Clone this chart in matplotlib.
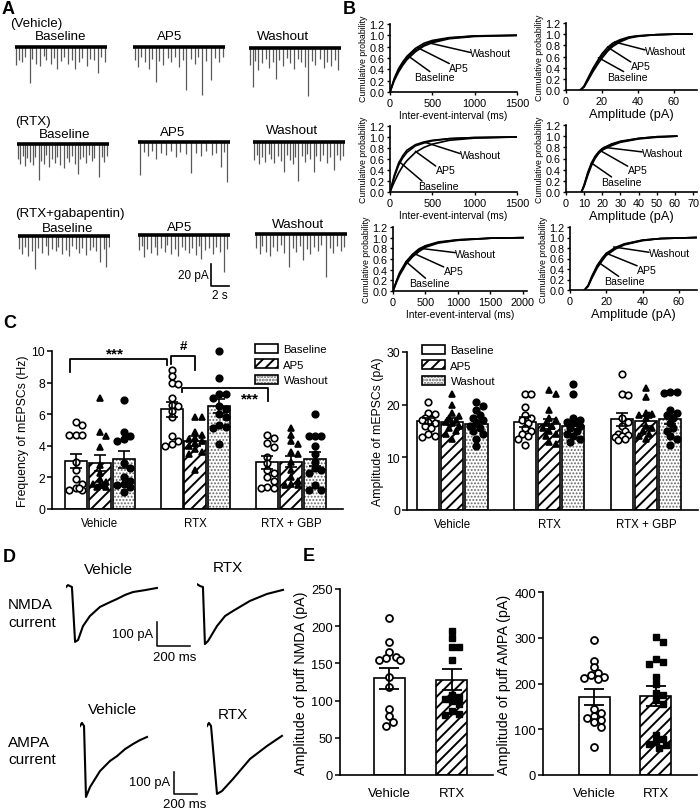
import numpy as np
import matplotlib
matplotlib.use("Agg")
import matplotlib.pyplot as plt
from matplotlib.patches import Patch

plt.rcParams['font.family'] = ['Liberation Sans', 'DejaVu Sans']
plt.rcParams['axes.linewidth'] = 1.2
plt.rcParams['hatch.linewidth'] = 1.4

# ---------------- A: mEPSC events, time (s) and amplitude (pA) ----------------
veh_base_t = [0.15, 0.45, 0.8, 1.1, 1.6, 1.9, 2.3, 2.7, 3.1, 3.4, 3.9, 4.2, 4.6, 5.0, 5.3, 5.8, 6.2, 6.5, 7.0, 7.3, 7.8, 8.2, 8.6, 9.0, 9.4, 9.8]
veh_base_a = [16, 12, 14, 9, 33, 11, 15, 17, 8, 12, 15, 10, 20, 13, 9, 15, 12, 20, 14, 10, 17, 11, 12, 24, 9, 14]
veh_ap5_t = [0.2, 0.5, 0.9, 1.3, 1.7, 2.1, 2.5, 2.8, 3.3, 3.8, 4.1, 4.6, 5.0, 5.4, 5.8, 6.3, 6.7, 7.1, 7.5, 7.9, 8.5, 8.9, 9.4, 9.8]
veh_ap5_a = [12, 18, 9, 14, 20, 11, 32, 13, 16, 10, 14, 9, 18, 12, 39, 11, 15, 9, 44, 13, 30, 10, 14, 9]
veh_wash_t = [0.1, 0.4, 0.7, 1.0, 1.4, 1.8, 2.2, 2.6, 2.9, 3.3, 3.7, 4.1, 4.5, 4.9, 5.3, 5.7, 6.1, 6.4, 6.8, 7.2, 7.7, 8.1, 8.5, 8.9, 9.3, 9.7]
veh_wash_a = [15, 35, 12, 20, 14, 10, 18, 13, 28, 11, 16, 9, 14, 19, 10, 13, 17, 44, 12, 15, 10, 18, 13, 16, 11, 20]
rtx_base_t = [0.1, 0.35, 0.6, 0.9, 1.1, 1.4, 1.7, 2.0, 2.4, 2.6, 2.9, 3.2, 3.5, 3.8, 4.1, 4.4, 4.7, 5.1, 5.4, 5.7, 6.0, 6.3, 6.6, 6.9, 7.2, 7.5, 7.8, 8.1, 8.4, 8.9, 9.2, 9.5, 9.8]
rtx_base_a = [14, 18, 11, 20, 13, 16, 19, 12, 33, 15, 18, 10, 21, 14, 17, 12, 19, 22, 13, 16, 11, 18, 27, 14, 12, 17, 10, 15, 13, 30, 12, 16, 11]
rtx_ap5_t = [0.2, 0.6, 1.1, 1.5, 2.0, 2.5, 3.0, 3.6, 4.1, 4.6, 5.2, 5.8, 6.3, 6.9, 7.4, 8.0, 8.5, 9.0, 9.4, 9.7]
rtx_ap5_a = [30, 9, 13, 8, 15, 10, 12, 8, 14, 9, 11, 28, 10, 13, 8, 12, 10, 23, 9, 36]
rtx_wash_t = [0.1, 0.4, 0.7, 1.0, 1.3, 1.7, 2.0, 2.3, 2.7, 3.0, 3.4, 3.7, 4.0, 4.3, 4.6, 4.9, 5.3, 5.6, 5.9, 6.2, 6.6, 6.9, 7.3, 7.6, 8.0, 8.4, 8.8, 9.1, 9.5, 9.8]
rtx_wash_a = [16, 12, 20, 14, 18, 11, 15, 19, 13, 17, 27, 12, 16, 20, 14, 35, 13, 18, 11, 15, 27, 13, 17, 12, 19, 14, 25, 12, 16, 13]
gbp_base_t = [0.1, 0.4, 0.8, 1.1, 1.5, 1.9, 2.2, 2.6, 3.0, 3.3, 3.7, 4.1, 4.4, 4.8, 5.2, 5.5, 5.9, 6.3, 6.6, 7.0, 7.4, 7.8, 8.2, 8.5, 8.9, 9.3, 9.6, 9.9]
gbp_base_a = [12, 16, 10, 18, 14, 30, 11, 15, 9, 17, 12, 14, 10, 16, 13, 18, 9, 12, 15, 11, 17, 13, 10, 14, 24, 12, 28, 10]
gbp_ap5_t = [0.1, 0.4, 0.7, 1.0, 1.4, 1.8, 2.1, 2.5, 2.9, 3.2, 3.6, 4.0, 4.4, 4.8, 5.1, 5.5, 5.9, 6.3, 6.6, 6.9, 7.3, 7.7, 8.1, 8.5, 8.9, 9.4, 9.7]
gbp_ap5_a = [14, 10, 20, 13, 16, 11, 18, 12, 15, 9, 17, 13, 19, 11, 14, 16, 12, 18, 10, 22, 14, 12, 17, 11, 15, 34, 13]
gbp_wash_t = [0.1, 0.5, 0.8, 1.2, 1.6, 2.0, 2.4, 2.8, 3.2, 3.7, 4.1, 4.5, 4.9, 5.2, 5.6, 6.0, 6.4, 6.8, 7.2, 7.7, 8.1, 8.5, 8.9, 9.3, 9.7]
gbp_wash_a = [13, 18, 11, 16, 20, 12, 15, 10, 17, 30, 13, 16, 11, 24, 14, 18, 12, 15, 10, 39, 13, 17, 11, 15, 12]

# ---------------- B: cumulative probability curves ----------------
b1_x = [0, 50, 100, 150, 200, 300, 400, 500, 700, 1000, 1500]
b1_base = [0, 0.22, 0.38, 0.50, 0.60, 0.74, 0.83, 0.89, 0.95, 0.99, 1.0]
b1_ap5 = [0, 0.20, 0.35, 0.47, 0.57, 0.71, 0.81, 0.87, 0.94, 0.98, 1.0]
b1_wash = [0, 0.24, 0.41, 0.53, 0.63, 0.77, 0.86, 0.91, 0.96, 0.99, 1.0]
b2_x = [8, 10, 12, 15, 18, 20, 23, 26, 30, 35, 40, 50, 60, 70]
b2_base = [0, 0.06, 0.18, 0.36, 0.52, 0.61, 0.72, 0.81, 0.88, 0.94, 0.97, 0.99, 1.0, 1.0]
b2_ap5 = [0, 0.05, 0.16, 0.33, 0.48, 0.57, 0.69, 0.78, 0.86, 0.93, 0.96, 0.99, 1.0, 1.0]
b2_wash = [0, 0.07, 0.20, 0.39, 0.55, 0.65, 0.76, 0.84, 0.90, 0.95, 0.97, 0.99, 1.0, 1.0]
b3_x = [0, 50, 100, 150, 200, 300, 400, 500, 700, 1000, 1500]
b3_base = [0, 0.30, 0.52, 0.66, 0.76, 0.86, 0.91, 0.94, 0.97, 0.99, 1.0]
b3_ap5 = [0, 0.18, 0.34, 0.47, 0.57, 0.72, 0.81, 0.87, 0.94, 0.98, 1.0]
b3_wash = [0, 0.27, 0.48, 0.62, 0.72, 0.84, 0.89, 0.93, 0.97, 0.99, 1.0]
b4_x = [8.5, 10, 12, 14, 16, 18, 20, 25, 30, 40, 50, 61]
b4_base = [0, 0.12, 0.33, 0.50, 0.62, 0.71, 0.77, 0.85, 0.90, 0.96, 0.99, 1.0]
b4_ap5 = [0, 0.10, 0.30, 0.47, 0.60, 0.69, 0.75, 0.83, 0.89, 0.95, 0.98, 1.0]
b4_wash = [0, 0.13, 0.35, 0.52, 0.64, 0.72, 0.78, 0.86, 0.91, 0.96, 0.99, 1.0]
b5_x = [0, 50, 100, 200, 300, 400, 500, 700, 1000, 1500, 2000]
b5_base = [0, 0.17, 0.32, 0.53, 0.67, 0.77, 0.84, 0.91, 0.96, 0.99, 1.0]
b5_ap5 = [0, 0.15, 0.29, 0.50, 0.64, 0.74, 0.82, 0.90, 0.95, 0.99, 1.0]
b5_wash = [0, 0.18, 0.34, 0.55, 0.69, 0.79, 0.85, 0.92, 0.96, 0.99, 1.0]
b6_x = [8, 10, 12, 15, 18, 20, 25, 30, 40, 50, 60, 70]
b6_base = [0, 0.08, 0.24, 0.45, 0.60, 0.68, 0.80, 0.87, 0.95, 0.98, 0.99, 1.0]
b6_ap5 = [0, 0.07, 0.22, 0.42, 0.57, 0.66, 0.78, 0.86, 0.94, 0.98, 0.99, 1.0]
b6_wash = [0, 0.09, 0.26, 0.47, 0.62, 0.70, 0.81, 0.88, 0.95, 0.98, 0.99, 1.0]

# ---------------- C: mEPSC frequency / amplitude ----------------
groups = ['Vehicle', 'RTX', 'RTX + GBP']
conds = ['Baseline', 'AP5', 'Washout']
freq_veh = [[5.5, 5.3, 4.7, 4.7, 4.7, 3.0, 2.5, 1.9, 1.6, 1.3, 1.2, 1.2, 1.3],
            [7.0, 4.9, 4.6, 3.9, 2.8, 2.3, 1.9, 1.7, 1.6, 1.5, 1.5, 1.4, 1.4],
            [6.9, 4.9, 4.6, 4.4, 4.3, 2.9, 2.6, 2.0, 1.8, 1.6, 1.5, 1.4, 1.1]]
freq_rtx = [[8.8, 8.4, 8.0, 7.9, 7.0, 6.6, 6.5, 6.2, 5.8, 4.6, 4.3, 4.1, 4.0],
            [5.8, 5.8, 4.9, 4.7, 4.5, 4.4, 4.3, 4.2, 4.0, 3.8, 3.6, 3.5, 2.5],
            [10.0, 8.3, 7.3, 7.3, 7.0, 6.5, 6.3, 6.0, 5.8, 5.3, 5.2, 5.1, 4.1]]
freq_gbp = [[4.7, 4.5, 4.2, 3.9, 3.3, 2.9, 2.5, 2.3, 2.0, 1.8, 1.4, 1.3, 1.3],
            [5.1, 4.7, 4.3, 4.1, 3.6, 3.5, 3.0, 2.5, 2.0, 1.8, 1.6, 1.5, 1.5],
            [6.0, 4.6, 4.6, 4.6, 4.0, 3.5, 3.0, 2.6, 2.5, 2.3, 1.5, 1.2, 1.2]]
freq_mean = [[3.05, 2.9, 3.15], [6.3, 4.3, 6.5], [2.95, 3.0, 3.15]]
freq_sem = [[0.45, 0.5, 0.55], [0.45, 0.3, 0.45], [0.4, 0.37, 0.45]]

amp_veh = [[20.6, 18.5, 18.3, 17.5, 17.2, 17.0, 16.8, 16.5, 16.0, 15.5, 14.5, 14.0, 13.8],
           [22.0, 20.0, 18.5, 17.8, 17.5, 17.0, 16.8, 16.5, 16.0, 15.5, 15.0, 14.5, 13.5],
           [20.5, 19.7, 19.0, 18.0, 17.5, 17.0, 16.5, 16.0, 15.5, 15.0, 14.5, 13.5, 12.2]]
amp_rtx = [[22.0, 22.0, 19.5, 18.0, 17.5, 17.0, 16.5, 15.5, 15.0, 14.5, 14.0, 13.5, 12.3],
           [22.8, 22.0, 19.0, 17.5, 17.0, 16.5, 16.0, 15.5, 15.0, 14.5, 14.0, 13.0, 12.5],
           [24.0, 22.0, 17.5, 17.0, 16.8, 16.5, 16.0, 15.5, 15.0, 14.5, 14.0, 13.5, 13.0]]
amp_gbp = [[25.8, 22.0, 21.8, 17.5, 16.8, 16.0, 15.0, 14.5, 14.2, 14.0, 13.8, 13.5, 13.3],
           [23.2, 21.5, 18.5, 18.3, 18.0, 18.0, 17.5, 16.0, 15.5, 15.0, 14.5, 14.0, 13.5],
           [22.5, 22.5, 22.2, 19.0, 18.5, 18.0, 17.5, 16.5, 15.5, 15.0, 14.0, 13.5, 12.3]]
amp_mean = [[16.9, 16.8, 16.4], [16.7, 16.3, 16.0], [17.2, 16.9, 17.2]]
amp_sem = [[0.6, 0.7, 0.7], [1.0, 1.0, 0.6], [1.3, 0.9, 0.9]]

# ---------------- D: puff-evoked currents, time (ms) and current (pA) ----------------
nmda_veh_t = [0, 12, 36, 55, 73, 103, 145, 206, 267, 309, 358, 406, 479, 551]
nmda_veh_i = [0, 8, 0, -229, -221, -163, -121, -83, -63, -50, -33, -21, -13, -4]
nmda_rtx_t = [0, 18, 36, 48, 67, 121, 170, 218, 321, 424, 521]
nmda_rtx_i = [12, 4, 0, -238, -225, -163, -121, -100, -58, -29, -12]
ampa_veh_t = [0, 17, 35, 52, 87, 131, 174, 261, 322, 392, 461, 522, 583]
ampa_veh_i = [0, 14, 0, -323, -278, -241, -205, -159, -137, -105, -82, -64, -50]
ampa_rtx_t = [0, 17, 35, 87, 130, 226, 374, 522, 652]
ampa_rtx_i = [0, 14, 0, -309, -296, -241, -150, -91, -45]

# ---------------- E: puff current amplitudes ----------------
e_groups = ['Vehicle', 'RTX']
nmda_veh = [211, 179, 165, 158, 157, 155, 154, 132, 118, 89, 79, 71, 66]
nmda_rtx = [194, 184, 172, 172, 154, 108, 105, 102, 100, 95, 86, 82, 80]
nmda_mean = [130, 128]
nmda_sem = [14, 14]
ampa_veh = [295, 250, 235, 222, 218, 215, 212, 210, 145, 136, 130, 125, 120, 115, 105, 62]
ampa_rtx = [302, 290, 254, 247, 243, 215, 200, 180, 175, 165, 155, 88, 78, 72, 68, 65, 58]
ampa_mean = [170, 172]
ampa_sem = [18, 22]

W, H = 700, 812
fig = plt.figure(figsize=(W / 100, H / 100), dpi=100)


def px_axes(l, t, r, b):
    return fig.add_axes([l / W, 1 - b / H, (r - l) / W, (b - t) / H])


def ftext(x, y, s, **kw):
    kw.setdefault('va', 'center')
    fig.text(x / W, 1 - y / H, s, **kw)


def swarm(values, dx, dy, maxw):
    steps = [0.0]
    k = 1
    while k * dx * 0.5 <= maxw + 1e-9:
        steps += [k * dx * 0.5, -k * dx * 0.5]
        k += 1
    placed, out = [], []
    for v in values:
        pick = None
        for s in steps:
            if all(((s - px) / dx) ** 2 + ((v - py) / dy) ** 2 >= 0.9 for px, py in placed):
                pick = s
                break
        if pick is None:
            pick = max(steps, key=lambda s: min(((s - px) / dx) ** 2 + ((v - py) / dy) ** 2
                                                for px, py in placed))
        placed.append((pick, v))
        out.append(pick)
    return np.array(out)


def hatch_bar(ax, x, h, w, cond, lw=1.2):
    if cond == 2:
        with plt.rc_context({'hatch.linewidth': 0.9}):
            bars = ax.bar(x, h, w, color='white', edgecolor='0.4', hatch='.....', lw=0, zorder=1)
        for b in bars:
            if hasattr(b, 'set_hatch_linewidth'):
                b.set_hatch_linewidth(0.9)
        ax.bar(x, h, w, fill=False, edgecolor='black', lw=lw, zorder=2)
    elif cond == 1:
        ax.bar(x, h, w, color='white', edgecolor='black', hatch='///', lw=lw, zorder=1)
    else:
        ax.bar(x, h, w, color='white', edgecolor='black', lw=lw, zorder=1)


def clean(ax):
    ax.spines['top'].set_visible(False)
    ax.spines['right'].set_visible(False)


# ================= Panel A =================
ftext(2, 9, 'A', fontsize=13, fontweight='bold')
PX_PER_S, PX_PER_PA = 9.2, 1.1
traces = [(15, 48, veh_base_t, veh_base_a), (133, 48, veh_ap5_t, veh_ap5_a), (249, 49, veh_wash_t, veh_wash_a),
          (17, 145, rtx_base_t, rtx_base_a), (138, 143, rtx_ap5_t, rtx_ap5_a), (253, 143, rtx_wash_t, rtx_wash_a),
          (18, 237, gbp_base_t, gbp_base_a), (138, 236, gbp_ap5_t, gbp_ap5_a), (255, 235, gbp_wash_t, gbp_wash_a)]
trace_axes = []
for left, base, t, a in traces:
    ax = px_axes(left, base - 6, left + 92, base + 56)
    ax.set_xlim(0, 92 / PX_PER_S)
    ax.set_ylim(-56 / PX_PER_PA, 6 / PX_PER_PA)
    ax.axis('off')
    ax.vlines(t, 0, -np.asarray(a, dtype=float), color='0.35', lw=0.9)
    ax.plot([0, 92 / PX_PER_S], [0, 0], color='black', lw=2.6, solid_capstyle='butt')
    trace_axes.append(ax)

# scale bar 20 pA / 2 s
sb = trace_axes[7]
sb.plot([7.9, 7.9, 9.9], [-26.4, -46.4, -46.4], color='black', lw=1.2, clip_on=False)
sb.text(7.7, -36, '20 pA', ha='right', va='center', fontsize=8.5)
sb.text(8.9, -49, '2 s', ha='center', va='top', fontsize=8.5, clip_on=False)

a_size = 9.6
ftext(10, 24, '(Vehicle)', fontsize=a_size)
ftext(61, 37, 'Baseline', fontsize=a_size, ha='center')
ftext(170, 37, 'AP5', fontsize=a_size, ha='center')
ftext(283, 37, 'Washout', fontsize=a_size, ha='center')
ftext(15, 122, '(RTX)', fontsize=a_size)
ftext(65, 135, 'Baseline', fontsize=a_size, ha='center')
ftext(173, 133, 'AP5', fontsize=a_size, ha='center')
ftext(292, 131, 'Washout', fontsize=a_size, ha='center')
ftext(15, 214, '(RTX+gabapentin)', fontsize=a_size)
ftext(68, 229, 'Baseline', fontsize=a_size, ha='center')
ftext(180, 228, 'AP5', fontsize=a_size, ha='center')
ftext(298, 225, 'Washout', fontsize=a_size, ha='center')

# ================= Panel B =================
ftext(343, 9, 'B', fontsize=13, fontweight='bold')


def cum_panel(box, xmax, xticks, xlabel, xl_size, x, curves, leaders):
    ax = px_axes(*box)
    for y in curves:
        ax.plot(x, y, color='black', lw=1.2)
    ax.set_xlim(0, xmax)
    ax.set_ylim(0, 1.2)
    yt = np.arange(0, 1.21, 0.2)
    ax.set_yticks(yt)
    ax.set_yticklabels(['%.1f' % v for v in yt])
    ax.set_xticks(xticks)
    clean(ax)
    ax.tick_params(length=2.5, width=1, labelsize=7.8, pad=1.5)
    ax.set_ylabel('Cumulative probability', fontsize=6.3, labelpad=1)
    ax.set_xlabel(xlabel, fontsize=xl_size, labelpad=1.5)
    for name, xy, xyt, va, rel in leaders:
        ax.annotate(name, xy=xy, xytext=xyt, ha='left', va=va, fontsize=7.6,
                    arrowprops=dict(arrowstyle='-', lw=1.1, color='black', relpos=rel,
                                    patchA=None, shrinkA=0, shrinkB=0))
    return ax


iei = 'Inter-event-interval (ms)'
amp = 'Amplitude (pA)'
cum_panel((390, 25, 517, 93), 1500, [0, 500, 1000, 1500], iei, 7.3, b1_x, [b1_base, b1_ap5, b1_wash],
          [('Washout', (450, 0.87), (950, 0.68), 'center', (0, 0.6)),
           ('AP5', (330, 0.78), (700, 0.52), 'top', (0, 0.9)),
           ('Baseline', (230, 0.62), (280, 0.36), 'top', (0.4, 1))])
cum_panel((566, 24, 697, 91), 72.8, [0, 20, 40, 60], amp, 9.2, b2_x, [b2_base, b2_ap5, b2_wash],
          [('Washout', (27, 0.86), (44, 0.70), 'center', (0, 0.6)),
           ('AP5', (23, 0.77), (36, 0.52), 'top', (0, 0.9)),
           ('Baseline', (18, 0.58), (23, 0.33), 'top', (0.4, 1))])
cum_panel((390, 127, 517, 193), 1500, [0, 500, 1000, 1500], iei, 7.3, b3_x, [b3_base, b3_ap5, b3_wash],
          [('Washout', (420, 0.9), (830, 0.68), 'center', (0, 0.6)),
           ('AP5', (300, 0.74), (540, 0.49), 'top', (0, 0.9)),
           ('Baseline', (110, 0.55), (330, 0.2), 'top', (0.1, 1))])
cum_panel((566, 126, 697, 193), 72.2, list(range(0, 71, 10)), amp, 9.2, b4_x, [b4_base, b4_ap5, b4_wash],
          [('Washout', (21, 0.8), (42, 0.70), 'center', (0, 0.6)),
           ('AP5', (19, 0.74), (34, 0.48), 'top', (0, 0.9)),
           ('Baseline', (14, 0.52), (19.5, 0.27), 'top', (0.25, 1))])
cum_panel((393, 228, 527, 292), 2062, [0, 500, 1000, 1500, 2000], iei, 7.3, b5_x, [b5_base, b5_ap5, b5_wash],
          [('Washout', (420, 0.8), (960, 0.70), 'center', (0, 0.6)),
           ('AP5', (330, 0.7), (780, 0.47), 'top', (0, 0.9)),
           ('Baseline', (200, 0.55), (250, 0.24), 'top', (0.4, 1))])
cum_panel((570, 228, 697, 291), 70, [0, 20, 40, 60], amp, 9.2, b6_x, [b6_base, b6_ap5, b6_wash],
          [('Washout', (24, 0.82), (43.5, 0.70), 'center', (0, 0.6)),
           ('AP5', (20, 0.7), (37, 0.48), 'top', (0, 0.9)),
           ('Baseline', (16, 0.52), (19, 0.26), 'top', (0.35, 1))])

# ================= Panel C =================
ftext(3, 324, 'C', fontsize=13, fontweight='bold')
markers = [dict(marker='o', mfc='white', mec='black'), dict(marker='^', mfc='black', mec='black'),
           dict(marker='o', mfc='black', mec='black')]


def group_panel(box, xlim, ylim, yticks, ylabel, means, sems, points, dy, leg_xy):
    ax = px_axes(*box)
    for g in range(3):
        for c in range(3):
            x = 4 * g + (c - 1)
            hatch_bar(ax, x, means[g][c], 0.92, c)
            offs = swarm(points[g][c], 0.27, dy, 0.36)
            ax.plot(x + offs, points[g][c], ls='none', ms=4.7, mew=1.2, zorder=3, clip_on=False, **markers[c])
            ax.errorbar(x, means[g][c], yerr=sems[g][c], fmt='none', ecolor='black', elinewidth=1.2,
                        capsize=4.5, capthick=1.2, zorder=4)
    ax.set_xlim(*xlim)
    ax.set_ylim(*ylim)
    ax.set_yticks(yticks)
    ax.set_xticks([0, 4, 8])
    ax.set_xticklabels(groups)
    clean(ax)
    ax.tick_params(axis='y', length=3.5, width=1.1, labelsize=8.8, pad=1.5)
    ax.tick_params(axis='x', length=0, labelsize=8.3, pad=6)
    ax.set_ylabel(ylabel, fontsize=8.8, labelpad=2)
    handles = [Patch(facecolor='white', edgecolor='black', lw=1.2),
               Patch(facecolor='white', edgecolor='black', hatch='///', lw=1.2),
               (Patch(facecolor='white', edgecolor='0.4', hatch='.....', lw=0),
                Patch(fill=False, edgecolor='black', lw=1.2))]
    ax.legend(handles, conds, loc='upper left', bbox_to_anchor=(leg_xy[0] / W, 1 - leg_xy[1] / H),
              bbox_transform=fig.transFigure, frameon=False, fontsize=8.2, borderpad=0, borderaxespad=0,
              handlelength=2.0, handleheight=0.85, handletextpad=0.5, labelspacing=0.42)
    return ax


axc1 = group_panel((52, 352, 343, 510), (-2.0, 10.17), (0, 10), range(0, 11, 2), 'Frequency of mEPSCs (Hz)',
                   freq_mean, freq_sem, [freq_veh, freq_rtx, freq_gbp], 0.41, (255, 345))
axc2 = group_panel((407, 353, 698, 511), (-1.87, 10.15), (0, 30), range(0, 31, 10), 'Amplitude of mEPSCs (pA)',
                   amp_mean, amp_sem, [amp_veh, amp_rtx, amp_gbp], 1.24, (422, 346))

# significance brackets
br = dict(color='black', lw=1.3, clip_on=False)
axc1.plot([-1.25, -1.25, 2.8, 2.8], [8.7, 9.5, 9.5, 9.1], **br)
axc1.text(0.63, 9.85, '***', ha='center', va='center', fontsize=11, fontweight='bold')
axc1.plot([2.97, 2.97, 3.98, 3.98], [9.17, 9.7, 9.7, 8.8], **br)
axc1.text(3.48, 10.3, '#', ha='center', va='center', fontsize=9.5, fontweight='bold')
axc1.plot([3.43, 3.43, 7.03, 7.03], [7.4, 7.65, 7.65, 6.85], **br)
axc1.text(6.3, 7.0, '***', ha='center', va='center', fontsize=11, fontweight='bold')

# ================= Panel D =================
ftext(3, 558, 'D', fontsize=13, fontweight='bold')
d_size = 11
ftext(108, 570, 'Vehicle', fontsize=d_size, ha='center')
ftext(228, 568, 'RTX', fontsize=d_size, ha='center')
ftext(8, 605, 'NMDA', fontsize=d_size)
ftext(8, 623, 'current', fontsize=d_size)
ftext(112, 710, 'Vehicle', fontsize=d_size, ha='center')
ftext(233, 715, 'RTX', fontsize=d_size, ha='center')
ftext(8, 743, 'AMPA', fontsize=d_size)
ftext(8, 760, 'current', fontsize=d_size)

NMDA_MS, NMDA_PA = 6.06, 4.17
AMPA_MS, AMPA_PA = 8.7, 4.55


def current_axes(l, t, r, b, base, ms, pa, tt, ii):
    ax = px_axes(l, t, r, b)
    ax.set_xlim(0, (r - l) * ms)
    ax.set_ylim(-(b - base) * pa, (base - t) * pa)
    ax.axis('off')
    ax.plot(tt, ii, color='black', lw=1.5)
    return ax


dn1 = current_axes(66, 578, 200, 662, 588, NMDA_MS, NMDA_PA, nmda_veh_t, nmda_veh_i)
current_axes(197, 578, 300, 662, 588, NMDA_MS, NMDA_PA, nmda_rtx_t, nmda_rtx_i)
da1 = current_axes(80, 715, 215, 810, 727, AMPA_MS, AMPA_PA, ampa_veh_t, ampa_veh_i)
current_axes(207, 715, 300, 810, 727, AMPA_MS, AMPA_PA, ampa_rtx_t, ampa_rtx_i)

dn1.plot([551, 551, 751], [-146, -246, -246], color='black', lw=1.1, clip_on=False)
dn1.text(527, -196, '100 pA', ha='right', va='center', fontsize=9.3)
dn1.text(660, -292, '200 ms', ha='center', va='center', fontsize=9.5)
da1.plot([818, 818, 1018], [-209, -309, -309], color='black', lw=1.1, clip_on=False)
da1.text(783, -255, '100 pA', ha='right', va='center', fontsize=9.3)
da1.text(913, -355, '200 ms', ha='center', va='center', fontsize=9.5, clip_on=False)

# ================= Panel E =================
ftext(303, 557, 'E', fontsize=13, fontweight='bold')


def puff_panel(box, xlim, ylim, yticks, ylabel, means, sems, pts, dy):
    ax = px_axes(*box)
    for g in range(2):
        hatch_bar(ax, g, means[g], 0.5, g)
        offs = swarm(pts[g], 0.112, dy, 0.2)
        if g == 0:
            ax.plot(g + offs, pts[g], ls='none', marker='o', ms=5, mew=1.3, mfc='white', mec='black', zorder=3)
        else:
            ax.plot(g + offs, pts[g], ls='none', marker='s', ms=5, mfc='black', mec='black', zorder=3)
        ax.errorbar(g, means[g], yerr=sems[g], fmt='none', ecolor='black', elinewidth=1.3,
                    capsize=7, capthick=1.3, zorder=4)
    ax.set_xlim(*xlim)
    ax.set_ylim(*ylim)
    ax.set_yticks(yticks)
    ax.set_xticks([0, 1])
    ax.set_xticklabels(e_groups)
    clean(ax)
    ax.tick_params(axis='y', length=3.5, width=1.1, labelsize=9.3, pad=1.5)
    ax.tick_params(axis='x', length=0, labelsize=9.5, pad=9)
    ax.set_ylabel(ylabel, fontsize=10.3, labelpad=2.5)
    return ax


puff_panel((340, 590, 493, 776), (-0.79, 1.66), (0, 250), range(0, 251, 50), 'Amplitude of puff NMDA (pA)',
           nmda_mean, nmda_sem, [nmda_veh, nmda_rtx], 9.4)
puff_panel((543, 593, 697, 776), (-0.83, 1.67), (0, 400), range(0, 401, 100), 'Amplitude of puff AMPA (pA)',
           ampa_mean, ampa_sem, [ampa_veh, ampa_rtx], 15.3)

fig.savefig('out.png', dpi=100)
